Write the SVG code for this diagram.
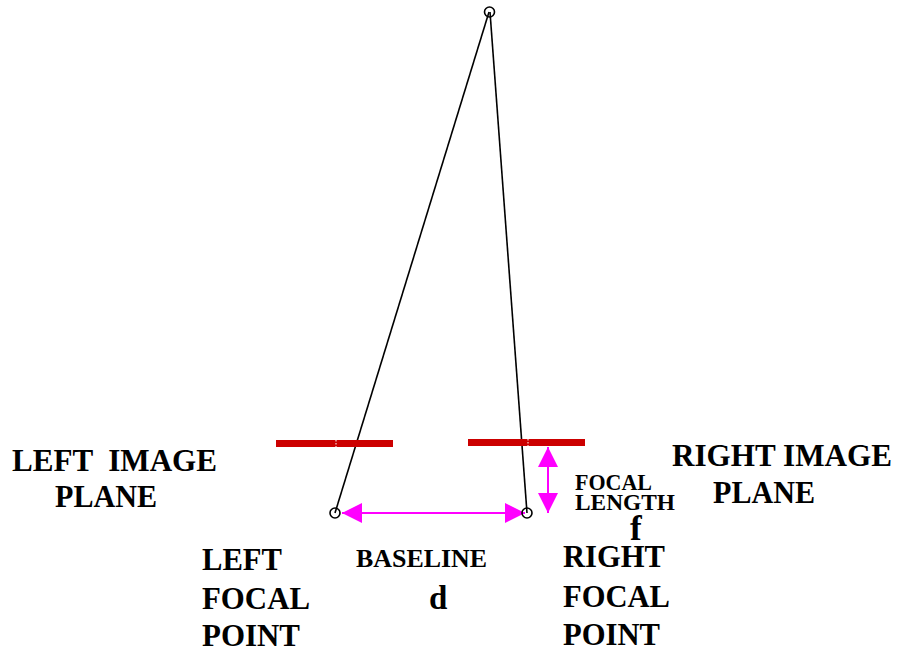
<svg xmlns="http://www.w3.org/2000/svg" width="908" height="648" viewBox="0 0 908 648">
<style>
.lbl{font-family:"Liberation Serif","Times New Roman",serif;font-weight:bold;fill:#000}
.ray{stroke:#000;stroke-width:1.6;fill:none}
.pt{stroke:#000;stroke-width:1.6;fill:none}
.plane{fill:#cc0000}
.tick{stroke:#fff;stroke-width:1;stroke-dasharray:1.5 1.5}
.dim{stroke:#ff00ff;stroke-width:2;fill:none}
</style>
<defs>
<marker id="ah" viewBox="0 0 20 20" refX="20" refY="10" markerWidth="20" markerHeight="20" markerUnits="userSpaceOnUse" orient="auto-start-reverse">
<path d="M0,0 L20,10 L0,20 Z" fill="#ff00ff"/>
</marker>
</defs>
<rect width="908" height="648" fill="#fff"/>
<g id="connectors">
<line class="ray" x1="489" y1="12" x2="335" y2="513"/>
<line class="ray" x1="490" y1="12" x2="527" y2="513"/>
<line class="dim" x1="342" y1="513" x2="525" y2="513" marker-start="url(#ah)" marker-end="url(#ah)"/>
<line class="dim" x1="548" y1="447" x2="548" y2="513" marker-start="url(#ah)" marker-end="url(#ah)"/>
</g>
<g id="object-point">
<circle class="pt" cx="489.5" cy="12" r="5"/>
</g>
<g id="left-image-plane">
<rect class="plane" x="276" y="440" width="117" height="7"/>
<line class="tick" x1="336" y1="440" x2="336" y2="447"/>
<text class="lbl" x="12" y="471" font-size="32" textLength="205" lengthAdjust="spacingAndGlyphs" xml:space="preserve">LEFT  IMAGE</text>
<text class="lbl" x="55" y="507" font-size="32" textLength="102" lengthAdjust="spacingAndGlyphs">PLANE</text>
</g>
<g id="right-image-plane">
<rect class="plane" x="468" y="439" width="117" height="7"/>
<line class="tick" x1="528" y1="439" x2="528" y2="446"/>
<text class="lbl" x="672" y="466" font-size="32" textLength="220" lengthAdjust="spacingAndGlyphs">RIGHT IMAGE</text>
<text class="lbl" x="713" y="503" font-size="32" textLength="102" lengthAdjust="spacingAndGlyphs">PLANE</text>
</g>
<g id="left-focal-point">
<circle class="pt" cx="335" cy="513" r="5"/>
<text class="lbl" x="202" y="570" font-size="32" textLength="80" lengthAdjust="spacingAndGlyphs">LEFT</text>
<text class="lbl" x="202" y="609" font-size="32" textLength="108" lengthAdjust="spacingAndGlyphs">FOCAL</text>
<text class="lbl" x="202" y="646" font-size="32" textLength="98" lengthAdjust="spacingAndGlyphs">POINT</text>
</g>
<g id="right-focal-point">
<circle class="pt" cx="527" cy="513" r="5"/>
<text class="lbl" x="563" y="567" font-size="32" textLength="102" lengthAdjust="spacingAndGlyphs">RIGHT</text>
<text class="lbl" x="563" y="607" font-size="32" textLength="107" lengthAdjust="spacingAndGlyphs">FOCAL</text>
<text class="lbl" x="563" y="645" font-size="32" textLength="97" lengthAdjust="spacingAndGlyphs">POINT</text>
</g>
<g id="baseline-label">
<text class="lbl" x="356" y="567" font-size="26" textLength="131" lengthAdjust="spacingAndGlyphs">BASELINE</text>
<text class="lbl" x="429" y="609" font-size="33">d</text>
</g>
<g id="focal-length-label">
<text class="lbl" x="575" y="490" font-size="23" textLength="77" lengthAdjust="spacingAndGlyphs">FOCAL</text>
<text class="lbl" x="575" y="510" font-size="23" textLength="100" lengthAdjust="spacingAndGlyphs">LENGTH</text>
<text class="lbl" x="630" y="540" font-size="35">f</text>
</g>
</svg>
